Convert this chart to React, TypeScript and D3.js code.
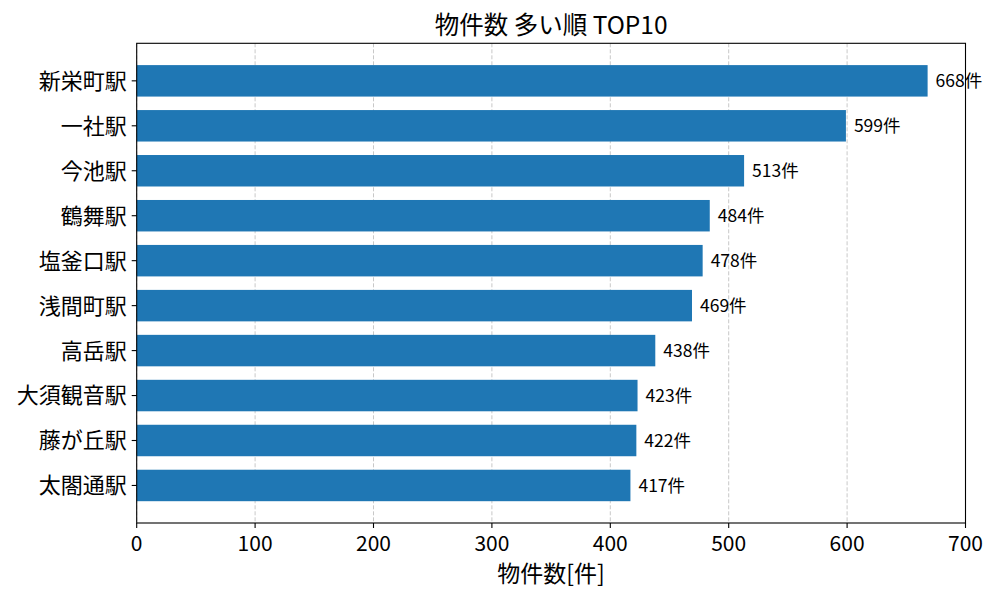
import React, { useEffect, useRef } from 'react';
import * as d3 from 'd3';

const stations = ['新栄町駅', '一社駅', '今池駅', '鶴舞駅', '塩釜口駅', '浅間町駅', '高岳駅', '大須観音駅', '藤が丘駅', '太閤通駅'];
const counts = [668, 599, 513, 484, 478, 469, 438, 423, 422, 417];
const xTicks = [0, 100, 200, 300, 400, 500, 600, 700];

const FONT = '"Noto Sans CJK JP", "Noto Sans", sans-serif';

const App: React.FC = () => {
  const svgRef = useRef<SVGSVGElement>(null);

  useEffect(() => {
    document.body.style.margin = '0';
    if (!svgRef.current) return;

    const width = 1000;
    const height = 600;
    const m = { left: 136.7, right: 34.5, top: 43.3, bottom: 77 };
    const plotW = width - m.left - m.right;
    const plotH = height - m.top - m.bottom;

    const svg = d3.select(svgRef.current);
    svg.selectAll('*').remove();

    const g = svg.append('g').attr('transform', `translate(${m.left},${m.top})`);

    const x = d3.scaleLinear().domain([0, 700]).range([0, plotW]);
    // category positions 0..9, bar height 0.7, 5% margins like matplotlib
    const n = stations.length;
    const lo = -0.35 - 0.05 * (n - 1 + 0.7);
    const hi = n - 1 + 0.35 + 0.05 * (n - 1 + 0.7);
    const y = d3.scaleLinear().domain([lo, hi]).range([0, plotH]);
    const barH = y(0.7) - y(0);

    // grid
    g.append('g')
      .selectAll('line')
      .data(xTicks)
      .enter()
      .append('line')
      .attr('x1', (d) => x(d))
      .attr('x2', (d) => x(d))
      .attr('y1', 0)
      .attr('y2', plotH)
      .attr('stroke', '#b0b0b0')
      .attr('stroke-opacity', 0.7)
      .attr('stroke-width', 1)
      .attr('stroke-dasharray', '4,2');

    // bars
    g.append('g')
      .selectAll('rect')
      .data(counts)
      .enter()
      .append('rect')
      .attr('x', x(0))
      .attr('y', (_, i) => y(i - 0.35))
      .attr('width', (d) => x(d) - x(0))
      .attr('height', barH)
      .attr('fill', '#1f77b4');

    // value labels
    g.append('g')
      .selectAll('text')
      .data(counts)
      .enter()
      .append('text')
      .attr('x', (d) => x(d) + 8)
      .attr('y', (_, i) => y(i))
      .attr('dy', '0.35em')
      .attr('font-family', FONT)
      .attr('font-size', 17.5)
      .attr('fill', '#000')
      .text((d) => `${d}件`);

    // frame
    g.append('rect')
      .attr('width', plotW)
      .attr('height', plotH)
      .attr('fill', 'none')
      .attr('stroke', '#000')
      .attr('stroke-width', 1.1);

    // x axis
    const xAxis = g.append('g').attr('transform', `translate(0,${plotH})`);
    xAxis
      .selectAll('line')
      .data(xTicks)
      .enter()
      .append('line')
      .attr('x1', (d) => x(d))
      .attr('x2', (d) => x(d))
      .attr('y1', 0)
      .attr('y2', 5)
      .attr('stroke', '#000')
      .attr('stroke-width', 1.1);
    xAxis
      .selectAll('text')
      .data(xTicks)
      .enter()
      .append('text')
      .attr('x', (d) => x(d))
      .attr('y', 28)
      .attr('text-anchor', 'middle')
      .attr('font-family', FONT)
      .attr('font-size', 21)
      .text((d) => d);

    // y axis
    const yAxis = g.append('g');
    yAxis
      .selectAll('line')
      .data(stations)
      .enter()
      .append('line')
      .attr('x1', -5)
      .attr('x2', 0)
      .attr('y1', (_, i) => y(i))
      .attr('y2', (_, i) => y(i))
      .attr('stroke', '#000')
      .attr('stroke-width', 1.1);
    yAxis
      .selectAll('text')
      .data(stations)
      .enter()
      .append('text')
      .attr('x', -10)
      .attr('y', (_, i) => y(i))
      .attr('dy', '0.36em')
      .attr('text-anchor', 'end')
      .attr('font-family', FONT)
      .attr('font-size', 22)
      .text((d) => d);

    // title and axis label
    svg
      .append('text')
      .attr('x', m.left + plotW / 2)
      .attr('y', 34)
      .attr('text-anchor', 'middle')
      .attr('font-family', FONT)
      .attr('font-size', 24.5)
      .text('物件数 多い順 TOP10');

    svg
      .append('text')
      .attr('x', m.left + plotW / 2)
      .attr('y', 582)
      .attr('text-anchor', 'middle')
      .attr('font-family', FONT)
      .attr('font-size', 23)
      .text('物件数[件]');
  }, []);

  return <svg ref={svgRef} width={1000} height={600} style={{ display: 'block', background: '#fff' }} />;
};

export default App;
